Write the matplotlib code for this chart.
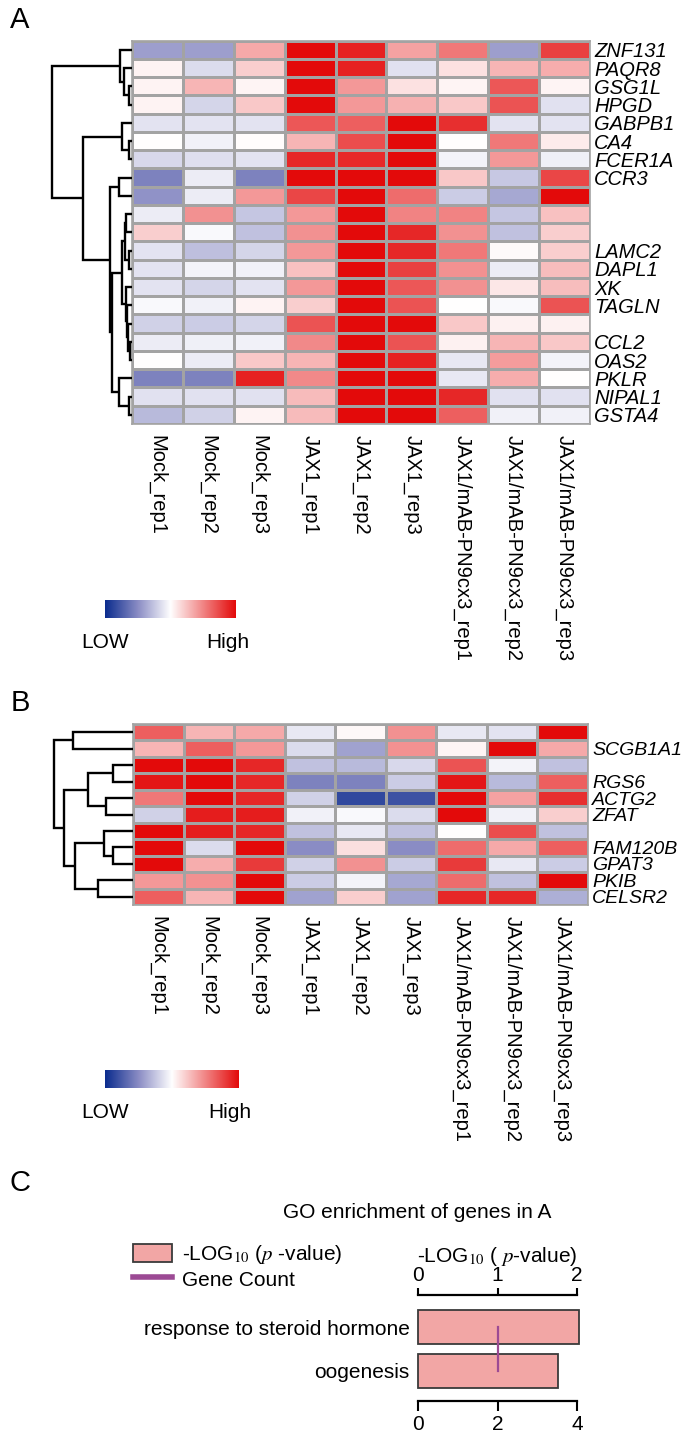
import numpy as np
import matplotlib
matplotlib.use("Agg")
import matplotlib.pyplot as plt
from matplotlib.colors import LinearSegmentedColormap
from matplotlib.patches import Patch
from matplotlib.lines import Line2D

plt.rcParams['font.family'] = ['Liberation Sans', 'DejaVu Sans']
plt.rcParams['mathtext.fontset'] = 'stix'

#--------------------
# data

samples = ['Mock_rep1', 'Mock_rep2', 'Mock_rep3', 'JAX1_rep1', 'JAX1_rep2', 'JAX1_rep3',
           'JAX1/mAB-PN9cx3_rep1', 'JAX1/mAB-PN9cx3_rep2', 'JAX1/mAB-PN9cx3_rep3']

genes_a = ['ZNF131', 'PAQR8', 'GSG1L', 'HPGD', 'GABPB1', 'CA4', 'FCER1A', 'CCR3', '', '', '',
           'LAMC2', 'DAPL1', 'XK', 'TAGLN', '', 'CCL2', 'OAS2', 'PKLR', 'NIPAL1', 'GSTA4']

expr_a = [
    [-0.42, -0.42, 0.35, 1.0, 0.90, 0.38, 0.55, -0.42, 0.78],
    [0.05, -0.15, 0.20, 1.0, 0.90, -0.13, 0.12, 0.30, 0.33],
    [0.05, 0.30, 0.04, 1.0, 0.42, 0.12, 0.04, 0.68, 0.04],
    [0.05, -0.18, 0.22, 1.0, 0.42, 0.32, 0.22, 0.70, -0.13],
    [-0.12, -0.12, -0.12, 0.68, 0.65, 1.0, 0.85, -0.12, -0.12],
    [0.00, -0.06, 0.01, 0.30, 0.72, 1.0, 0.00, 0.55, 0.08],
    [-0.17, -0.14, -0.12, 0.88, 0.87, 1.0, -0.05, 0.42, -0.07],
    [-0.55, -0.08, -0.55, 1.0, 1.0, 1.0, 0.22, -0.24, 0.75],
    [-0.47, -0.08, 0.42, 0.75, 1.0, 0.60, -0.22, -0.38, 1.0],
    [-0.08, 0.45, -0.25, 0.42, 1.0, 0.50, 0.50, -0.25, 0.25],
    [0.20, -0.03, -0.27, 0.45, 1.0, 0.88, 0.45, -0.27, 0.20],
    [-0.12, -0.28, -0.18, 0.42, 1.0, 0.88, 0.55, 0.02, 0.20],
    [-0.12, -0.05, -0.06, 0.25, 1.0, 0.78, 0.45, -0.08, 0.27],
    [-0.12, -0.18, -0.12, 0.42, 1.0, 0.68, 0.45, 0.10, 0.27],
    [-0.03, -0.06, 0.05, 0.20, 1.0, 0.70, 0.00, -0.03, 0.70],
    [-0.20, -0.22, -0.18, 0.70, 1.0, 1.0, 0.22, 0.06, 0.06],
    [-0.08, -0.07, -0.06, 0.48, 1.0, 0.70, 0.06, 0.30, 0.22],
    [0.00, -0.08, 0.22, 0.30, 1.0, 0.90, -0.10, 0.40, -0.05],
    [-0.55, -0.55, 0.90, 0.48, 1.0, 1.0, -0.10, 0.33, 0.00],
    [-0.13, -0.13, -0.13, 0.28, 1.0, 1.0, 0.88, -0.13, -0.13],
    [-0.30, -0.20, 0.05, 0.28, 1.0, 1.0, 0.65, -0.06, -0.06],
]

# row dendrogram A: (node, node, height)
links_a = [(2, 3, 3.5), (1, 21, 8), (0, 22, 12), (5, 6, 3.5), (4, 24, 10),
           (7, 8, 13), (9, 10, 6), (11, 12, 3), (27, 28, 7.5), (16, 17, 2.5),
           (15, 30, 4), (14, 31, 5), (13, 32, 6.5), (29, 33, 10), (19, 20, 3.5),
           (18, 35, 13), (34, 36, 20), (26, 37, 22), (25, 38, 49), (23, 39, 80)]

genes_b = ['', 'SCGB1A1', '', 'RGS6', 'ACTG2', 'ZFAT', '', 'FAM120B', 'GPAT3', 'PKIB', 'CELSR2']

expr_b = [
    [0.65, 0.30, 0.35, -0.10, 0.03, 0.45, -0.10, -0.12, 1.0],
    [0.30, 0.65, 0.42, -0.15, -0.40, 0.45, 0.04, 1.0, 0.35],
    [1.0, 1.0, 0.88, -0.27, -0.30, -0.17, 0.70, -0.05, -0.27],
    [0.95, 1.0, 0.88, -0.55, -0.55, -0.22, 0.95, -0.30, 0.65],
    [0.55, 1.0, 0.88, -0.20, -0.85, -0.80, 1.0, 0.38, 0.85],
    [-0.20, 0.92, 0.92, -0.06, -0.03, -0.15, 1.0, -0.06, 0.20],
    [1.0, 0.92, 0.88, -0.27, -0.10, -0.27, 0.00, 0.72, -0.27],
    [1.0, -0.15, 1.0, -0.50, 0.13, -0.50, 0.60, 0.35, 0.65],
    [1.0, 0.33, 0.80, -0.20, 0.45, -0.22, 0.80, -0.10, -0.22],
    [0.42, 0.45, 1.0, -0.22, -0.05, -0.38, 0.60, -0.27, 1.0],
    [0.65, 0.30, 1.0, -0.40, 0.20, -0.40, 0.88, 0.88, -0.35],
]

links_b = [(0, 1, 60), (2, 3, 20), (4, 5, 26.6), (12, 13, 45), (7, 8, 20),
           (6, 15, 29), (9, 10, 34.6), (16, 17, 57.6), (14, 18, 69), (11, 19, 79)]

go_terms = ['response to steroid hormone', 'oogenesis']
go_neglog_p = [2.02, 1.76]
go_gene_count = [2, 2]

#--------------------
# helpers

W, H = 685, 1433
fig = plt.figure(figsize=(W / 100, H / 100), dpi=100)
cmap = LinearSegmentedColormap.from_list(
    'lowhigh', [(0.0, '#0b2c8e'), (0.25, '#8a8cc4'), (0.5, '#ffffff'), (1.0, '#e30a0a')])
GRID = '#a3a3a3'


def px_axes(x0, y0, x1, y1):
    return fig.add_axes([x0 / W, 1 - y1 / H, (x1 - x0) / W, (y1 - y0) / H])


def px_text(x, y, s, **kw):
    fig.text(x / W, 1 - y / H, s, **kw)


def draw_dendro(ax, links, n):
    pos = {i: (i + 0.5, 0.0) for i in range(n)}
    for k, (a, b, h) in enumerate(links):
        ya, ha = pos[a]
        yb, hb = pos[b]
        ax.plot([ha, h, h, hb], [ya, ya, yb, yb], color='black', lw=1.7,
                solid_joinstyle='miter', solid_capstyle='butt')
        pos[n + k] = ((ya + yb) / 2, h)
    ax.set_ylim(n, 0)
    ax.axis('off')


def draw_heatmap(box, data, genes, links, dendro_w, gene_fs):
    x0, y0, x1, y1 = box
    data = np.array(data)
    n = data.shape[0]
    ax = px_axes(x0, y0, x1, y1)
    ax.pcolormesh(np.arange(data.shape[1] + 1), np.arange(n + 1), data, cmap=cmap,
                  vmin=-1, vmax=1, edgecolors=GRID, linewidth=1.0)
    ax.set_xlim(0, data.shape[1])
    ax.set_ylim(n, 0)
    for s in ax.spines.values():
        s.set_color(GRID)
        s.set_linewidth(1.2)
    ax.set_yticks(np.arange(n) + 0.5)
    ax.set_yticklabels(genes, fontstyle='italic', fontsize=gene_fs)
    ax.yaxis.tick_right()
    ax.set_xticks(np.arange(data.shape[1]) + 0.5)
    ax.set_xticklabels(samples, rotation=270, fontsize=14.5)
    ax.tick_params(length=0)
    ax.tick_params(axis='y', pad=3)
    ax.tick_params(axis='x', pad=8)
    dax = px_axes(x0 - dendro_w, y0, x0, y1)
    draw_dendro(dax, links, n)
    dax.set_xlim(dendro_w, 0)


def draw_colorbar(x0, y0, x1, y1):
    ax = px_axes(x0, y0, x1, y1)
    ax.imshow(np.linspace(-1, 1, 256)[None, :], aspect='auto', cmap=cmap)
    ax.axis('off')
    px_text(x0, y1 + 24, 'LOW', fontsize=15, ha='center', va='center')
    px_text(x1 - 8, y1 + 24, 'High', fontsize=15, ha='center', va='center')


#--------------------
# panel A

px_text(20, 20, 'A', fontsize=21, ha='center', va='center')
draw_heatmap((132, 40.7, 590, 424), expr_a, genes_a, links_a, 132, 14.5)
draw_colorbar(105, 600, 236, 618)

#--------------------
# panel B

px_text(20, 703, 'B', fontsize=21, ha='center', va='center')
draw_heatmap((133, 724, 588, 905), expr_b, genes_b, links_b, 133, 14)
draw_colorbar(105, 1070, 238, 1088)

#--------------------
# panel C

px_text(20, 1183, 'C', fontsize=21, ha='center', va='center')
px_text(417, 1213, 'GO enrichment of genes in A', fontsize=15, ha='center', va='center')

ax = px_axes(418, 1295, 577, 1401)
ax2 = ax.twiny()
y = np.arange(len(go_terms))

ax.barh(y, go_neglog_p, height=0.78, color='#f2a6a5', edgecolor='#3a3a3a',
        linewidth=1.3, clip_on=False, zorder=2)
ax.set_xlim(0, 2)
ax.set_ylim(1.70, -0.736)
ax.xaxis.tick_top()
ax.xaxis.set_label_position('top')
ax.set_xticks([0, 1, 2])
ax.set_xlabel(r'-LOG$_{10}$ ( $\mathit{p}$-value)', fontsize=15, labelpad=3)
ax.set_yticks(y)
ax.set_yticklabels(go_terms, fontsize=15)
ax.tick_params(axis='y', length=0, pad=6)
ax.tick_params(axis='x', direction='out', length=5, width=1.5, labelsize=15, pad=2)
for side in ['left', 'right', 'bottom']:
    ax.spines[side].set_visible(False)
ax.spines['top'].set_linewidth(1.6)

ax2.plot(go_gene_count, y, color='#9c4a94', lw=1.6, zorder=3)
ax2.set_xlim(0, 4)
ax2.set_ylim(1.70, -0.736)
ax2.xaxis.tick_bottom()
ax2.xaxis.set_label_position('bottom')
ax2.set_xticks([0, 2, 4])
ax2.tick_params(axis='x', direction='out', length=7, width=1.5, labelsize=15, pad=3)
for side in ['left', 'right', 'top']:
    ax2.spines[side].set_visible(False)
ax2.spines['bottom'].set_linewidth(1.6)

handles = [Patch(facecolor='#f2a6a5', edgecolor='#3a3a3a', linewidth=1.3,
                 label=r'-LOG$_{10}$ ($\mathit{p}$ -value)'),
           Line2D([0], [0], color='#9c4a94', lw=4, label='Gene Count')]
fig.legend(handles=handles, loc='upper left', bbox_to_anchor=(133 / W, 1 - 1243 / H),
           frameon=False, fontsize=15, handlelength=1.85, handleheight=1.0,
           handletextpad=0.5, labelspacing=0.15, borderpad=0, borderaxespad=0)

fig.savefig('out.png', dpi=100)
